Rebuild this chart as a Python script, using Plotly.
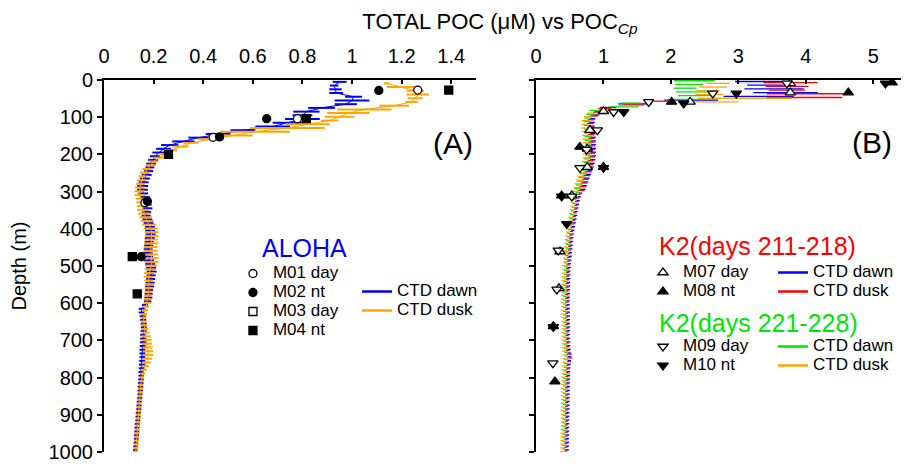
import plotly.graph_objects as go

FONT = "Liberation Sans, Arial, Helvetica, sans-serif"

DEPTH_TICKS = [0, 100, 200, 300, 400, 500, 600, 700, 800, 900, 1000]
A_X_TICKS = [0, 0.2, 0.4, 0.6, 0.8, 1.0, 1.2, 1.4]
B_X_TICKS = [0, 1, 2, 3, 4, 5]

# ---------------- Panel A: ALOHA CTD profiles (centre value and half range) -------------
A_DAWN_DEPTH = list(range(5, 1000, 10))
A_DAWN_POC = [
    0.950, 0.928, 0.933, 0.936, 1.006, 1.000, 0.975, 0.877, 0.816, 0.800,
    0.800, 0.740, 0.680, 0.560, 0.460, 0.380, 0.320, 0.265, 0.240, 0.220,
    0.205, 0.198, 0.190, 0.185, 0.180, 0.172, 0.165, 0.160, 0.156, 0.155,
    0.158, 0.165, 0.170, 0.172, 0.175, 0.172, 0.170, 0.175, 0.180, 0.185,
    0.186, 0.188, 0.185, 0.182, 0.180, 0.178, 0.176, 0.178, 0.182, 0.186,
    0.190, 0.192, 0.190, 0.188, 0.186, 0.184, 0.182, 0.180, 0.179, 0.176,
    0.165, 0.152, 0.152, 0.156, 0.158, 0.160, 0.160, 0.160, 0.158, 0.158,
    0.157, 0.156, 0.155, 0.155, 0.155, 0.154, 0.153, 0.151, 0.150, 0.150,
    0.149, 0.148, 0.147, 0.146, 0.145, 0.144, 0.142, 0.141, 0.140, 0.138,
    0.137, 0.136, 0.134, 0.133, 0.132, 0.131, 0.130, 0.128, 0.127, 0.126]
A_DAWN_RANGE = [
    0.028, 0.017, 0.025, 0.028, 0.034, 0.070, 0.045, 0.054, 0.053, 0.040,
    0.070, 0.060, 0.070, 0.050, 0.050, 0.040, 0.045, 0.035, 0.030, 0.025,
    0.020, 0.020, 0.020, 0.018, 0.018, 0.020, 0.020, 0.020, 0.022, 0.022,
    0.020, 0.020, 0.020, 0.020, 0.020, 0.018, 0.018, 0.020, 0.020, 0.020,
    0.020, 0.020, 0.020, 0.018, 0.018, 0.018, 0.020, 0.020, 0.020, 0.020,
    0.020, 0.020, 0.018, 0.018, 0.018, 0.018, 0.016, 0.016, 0.016, 0.015,
    0.012, 0.012, 0.012, 0.012, 0.012, 0.012, 0.012, 0.012, 0.012, 0.012,
    0.012, 0.012, 0.012, 0.012, 0.012, 0.012, 0.012, 0.011, 0.011, 0.011,
    0.011, 0.011, 0.011, 0.011, 0.010, 0.010, 0.010, 0.010, 0.010, 0.010,
    0.010, 0.010, 0.010, 0.010, 0.010, 0.010, 0.009, 0.009, 0.009, 0.009]

A_DUSK_DEPTH = list(range(9, 1000, 10))
A_DUSK_POC = [
    1.140, 1.200, 1.255, 1.265, 1.255, 1.240, 1.170, 1.050, 0.985, 0.950,
    0.910, 0.820, 0.740, 0.610, 0.520, 0.430, 0.350, 0.310, 0.270, 0.245,
    0.220, 0.200, 0.188, 0.175, 0.165, 0.158, 0.152, 0.148, 0.145, 0.143,
    0.145, 0.150, 0.152, 0.155, 0.158, 0.162, 0.168, 0.175, 0.182, 0.188,
    0.192, 0.192, 0.190, 0.190, 0.188, 0.188, 0.190, 0.192, 0.192, 0.190,
    0.186, 0.182, 0.180, 0.180, 0.182, 0.182, 0.180, 0.178, 0.176, 0.174,
    0.170, 0.166, 0.162, 0.160, 0.160, 0.162, 0.165, 0.168, 0.170, 0.172,
    0.174, 0.176, 0.178, 0.178, 0.176, 0.172, 0.166, 0.160, 0.156, 0.152,
    0.150, 0.148, 0.147, 0.146, 0.145, 0.144, 0.142, 0.141, 0.140, 0.139,
    0.138, 0.137, 0.135, 0.134, 0.133, 0.132, 0.131, 0.130, 0.129, 0.128]
A_DUSK_RANGE = [
    0.012, 0.060, 0.035, 0.045, 0.030, 0.025, 0.060, 0.110, 0.085, 0.060,
    0.035, 0.090, 0.150, 0.140, 0.080, 0.050, 0.030, 0.030, 0.025, 0.020,
    0.020, 0.020, 0.020, 0.020, 0.020, 0.018, 0.018, 0.018, 0.020, 0.020,
    0.022, 0.022, 0.022, 0.022, 0.025, 0.025, 0.025, 0.025, 0.028, 0.028,
    0.028, 0.028, 0.028, 0.028, 0.028, 0.028, 0.028, 0.028, 0.028, 0.025,
    0.022, 0.020, 0.020, 0.018, 0.018, 0.018, 0.016, 0.016, 0.015, 0.015,
    0.012, 0.012, 0.012, 0.012, 0.012, 0.012, 0.014, 0.016, 0.018, 0.020,
    0.020, 0.020, 0.020, 0.020, 0.018, 0.016, 0.014, 0.012, 0.010, 0.010,
    0.010, 0.010, 0.010, 0.010, 0.010, 0.010, 0.010, 0.010, 0.010, 0.010,
    0.010, 0.010, 0.010, 0.010, 0.010, 0.010, 0.010, 0.010, 0.010, 0.010]

# ---------------- Panel A: ALOHA bottle POC ---------------------------------------------
M01_POC = [1.265, 0.78, 0.44, 0.165]
M01_DEPTH = [27, 104, 154, 330]
M02_POC = [1.108, 0.656, 0.466, 0.175, 0.150]
M02_DEPTH = [28, 104, 153, 326, 475]
M03_POC = [None]      # no M03 point is visible in the figure (legend entry only)
M03_DEPTH = [None]
M04_POC = [1.39, 0.816, 0.26, 0.114, 0.134]
M04_DEPTH = [27, 104, 200, 475, 575]

# ---------------- Panel B: K2 CTD profiles ----------------------------------------------
B1_DAWN_DEPTH = list(range(4, 1000, 10))
B1_DAWN_POC = [
    3.33, 3.40, 3.53, 3.70, 3.30, 2.30, 1.47, 1.07, 0.95, 0.88,
    0.840, 0.830, 0.830, 0.835, 0.840, 0.845, 0.850, 0.850, 0.850, 0.850,
    0.850, 0.840, 0.830, 0.815, 0.795, 0.775, 0.755, 0.735, 0.715, 0.695,
    0.660, 0.640, 0.625, 0.615, 0.605, 0.595, 0.585, 0.575, 0.565, 0.555,
    0.545, 0.535, 0.530, 0.525, 0.520, 0.515, 0.510, 0.505, 0.500, 0.495,
    0.490, 0.485, 0.485, 0.483, 0.481, 0.480, 0.480, 0.479, 0.478, 0.477,
    0.477, 0.477, 0.477, 0.478, 0.479, 0.480, 0.481, 0.481, 0.481, 0.482,
    0.483, 0.485, 0.490, 0.495, 0.500, 0.495, 0.490, 0.485, 0.483, 0.481,
    0.480, 0.479, 0.478, 0.477, 0.476, 0.475, 0.475, 0.474, 0.473, 0.472,
    0.471, 0.470, 0.469, 0.468, 0.467, 0.466, 0.465, 0.465, 0.464, 0.463]
B1_DAWN_RANGE = [
    0.38, 0.27, 0.44, 0.48, 0.52, 0.40, 0.25, 0.12, 0.08, 0.06,
    0.040, 0.040, 0.040, 0.040, 0.040, 0.040, 0.040, 0.040, 0.040, 0.040,
    0.040, 0.040, 0.040, 0.040, 0.040, 0.040, 0.040, 0.040, 0.040, 0.040,
    0.025, 0.025, 0.025, 0.025, 0.025, 0.025, 0.025, 0.025, 0.025, 0.025,
    0.025, 0.025, 0.025, 0.025, 0.025, 0.025, 0.025, 0.025, 0.025, 0.025,
    0.025, 0.025, 0.025, 0.025, 0.025, 0.025, 0.025, 0.025, 0.025, 0.025,
    0.025, 0.025, 0.025, 0.025, 0.025, 0.025, 0.025, 0.025, 0.025, 0.025,
    0.025, 0.025, 0.025, 0.025, 0.025, 0.025, 0.025, 0.025, 0.025, 0.025,
    0.025, 0.025, 0.025, 0.025, 0.025, 0.025, 0.025, 0.025, 0.025, 0.025,
    0.025, 0.025, 0.025, 0.025, 0.025, 0.025, 0.025, 0.025, 0.025, 0.025]

B1_DUSK_DEPTH = list(range(7, 1000, 10))
B1_DUSK_POC = [
    3.77, 3.72, 3.72, 3.99, 3.98, 1.88, 1.45, 1.02, 0.925, 0.855,
    0.815, 0.805, 0.805, 0.810, 0.815, 0.820, 0.825, 0.825, 0.825, 0.825,
    0.825, 0.815, 0.805, 0.790, 0.770, 0.750, 0.730, 0.710, 0.690, 0.670,
    0.640, 0.620, 0.605, 0.595, 0.585, 0.575, 0.565, 0.555, 0.545, 0.535,
    0.525, 0.515, 0.510, 0.505, 0.500, 0.495, 0.490, 0.485, 0.480, 0.475,
    0.470, 0.465, 0.465, 0.463, 0.461, 0.460, 0.460, 0.459, 0.458, 0.457,
    0.457, 0.457, 0.457, 0.458, 0.459, 0.460, 0.461, 0.461, 0.461, 0.462,
    0.463, 0.465, 0.470, 0.490, 0.500, 0.490, 0.470, 0.465, 0.463, 0.461,
    0.460, 0.459, 0.458, 0.457, 0.456, 0.455, 0.455, 0.454, 0.453, 0.452,
    0.451, 0.450, 0.449, 0.448, 0.447, 0.446, 0.445, 0.445, 0.444, 0.443]
B1_DUSK_RANGE = [
    0.40, 0.32, 0.27, 0.57, 0.56, 0.14, 0.15, 0.10, 0.08, 0.06,
    0.050, 0.050, 0.050, 0.050, 0.050, 0.050, 0.050, 0.050, 0.050, 0.050,
    0.050, 0.050, 0.050, 0.050, 0.050, 0.050, 0.050, 0.050, 0.050, 0.050,
    0.025, 0.025, 0.025, 0.025, 0.025, 0.025, 0.025, 0.025, 0.025, 0.025,
    0.025, 0.025, 0.025, 0.025, 0.025, 0.025, 0.025, 0.025, 0.025, 0.025,
    0.025, 0.025, 0.025, 0.025, 0.025, 0.025, 0.025, 0.025, 0.025, 0.025,
    0.025, 0.025, 0.025, 0.025, 0.025, 0.025, 0.025, 0.025, 0.025, 0.025,
    0.025, 0.025, 0.030, 0.040, 0.040, 0.030, 0.025, 0.025, 0.025, 0.025,
    0.025, 0.025, 0.025, 0.025, 0.025, 0.025, 0.025, 0.025, 0.025, 0.025,
    0.025, 0.025, 0.025, 0.025, 0.025, 0.025, 0.025, 0.025, 0.025, 0.025]

B2_DAWN_DEPTH = list(range(2, 1000, 10))
B2_DAWN_POC = [
    2.35, 2.27, 2.21, 2.33, 2.38, 2.30, 1.40, 1.30, 0.875, 0.805,
    0.765, 0.755, 0.755, 0.760, 0.765, 0.770, 0.775, 0.775, 0.775, 0.775,
    0.775, 0.765, 0.755, 0.740, 0.720, 0.700, 0.680, 0.660, 0.640, 0.620,
    0.610, 0.590, 0.575, 0.565, 0.555, 0.545, 0.535, 0.525, 0.515, 0.505,
    0.495, 0.485, 0.480, 0.475, 0.470, 0.465, 0.460, 0.455, 0.450, 0.445,
    0.440, 0.435, 0.435, 0.433, 0.431, 0.430, 0.430, 0.429, 0.428, 0.427,
    0.427, 0.427, 0.427, 0.428, 0.429, 0.430, 0.431, 0.431, 0.431, 0.432,
    0.433, 0.435, 0.440, 0.445, 0.450, 0.445, 0.440, 0.435, 0.433, 0.431,
    0.430, 0.429, 0.428, 0.427, 0.426, 0.425, 0.425, 0.424, 0.423, 0.422,
    0.421, 0.420, 0.419, 0.418, 0.417, 0.416, 0.415, 0.415, 0.414, 0.413]
B2_DAWN_RANGE = [
    0.30, 0.21, 0.17, 0.25, 0.27, 0.25, 0.15, 0.22, 0.08, 0.06,
    0.050, 0.050, 0.050, 0.050, 0.050, 0.050, 0.050, 0.050, 0.050, 0.050,
    0.050, 0.050, 0.050, 0.050, 0.050, 0.050, 0.050, 0.050, 0.050, 0.050,
    0.025, 0.025, 0.025, 0.025, 0.025, 0.025, 0.025, 0.025, 0.025, 0.025,
    0.025, 0.025, 0.025, 0.025, 0.025, 0.025, 0.025, 0.025, 0.025, 0.025,
    0.025, 0.025, 0.025, 0.025, 0.025, 0.025, 0.025, 0.025, 0.025, 0.025,
    0.025, 0.025, 0.025, 0.025, 0.025, 0.025, 0.025, 0.025, 0.025, 0.025,
    0.025, 0.025, 0.025, 0.025, 0.025, 0.025, 0.025, 0.025, 0.025, 0.025,
    0.025, 0.025, 0.025, 0.025, 0.025, 0.025, 0.025, 0.025, 0.025, 0.025,
    0.025, 0.025, 0.025, 0.025, 0.025, 0.025, 0.025, 0.025, 0.025, 0.025]

B2_DUSK_DEPTH = list(range(9, 1000, 10))
B2_DUSK_POC = [
    2.70, 2.62, 2.54, 2.57, 3.10, 2.55, 1.35, 1.12, 0.84, 0.77,
    0.730, 0.720, 0.720, 0.725, 0.730, 0.735, 0.740, 0.740, 0.740, 0.740,
    0.740, 0.730, 0.720, 0.705, 0.685, 0.665, 0.645, 0.625, 0.605, 0.585,
    0.580, 0.560, 0.545, 0.535, 0.525, 0.515, 0.505, 0.495, 0.485, 0.475,
    0.465, 0.455, 0.450, 0.445, 0.440, 0.435, 0.430, 0.425, 0.420, 0.415,
    0.410, 0.405, 0.405, 0.403, 0.401, 0.400, 0.400, 0.399, 0.398, 0.397,
    0.397, 0.397, 0.397, 0.398, 0.399, 0.400, 0.401, 0.401, 0.401, 0.402,
    0.403, 0.405, 0.410, 0.415, 0.420, 0.415, 0.410, 0.405, 0.403, 0.401,
    0.400, 0.399, 0.398, 0.397, 0.396, 0.395, 0.395, 0.394, 0.393, 0.392,
    0.391, 0.390, 0.389, 0.388, 0.387, 0.386, 0.385, 0.385, 0.384, 0.383]
B2_DUSK_RANGE = [
    0.17, 0.21, 0.18, 0.21, 0.70, 0.45, 0.12, 0.18, 0.08, 0.06,
    0.050, 0.050, 0.050, 0.050, 0.050, 0.050, 0.050, 0.050, 0.050, 0.050,
    0.050, 0.050, 0.050, 0.050, 0.050, 0.050, 0.050, 0.050, 0.050, 0.050,
    0.025, 0.025, 0.025, 0.025, 0.025, 0.025, 0.025, 0.025, 0.025, 0.025,
    0.025, 0.025, 0.025, 0.025, 0.025, 0.025, 0.025, 0.025, 0.025, 0.025,
    0.025, 0.025, 0.025, 0.025, 0.025, 0.025, 0.025, 0.025, 0.025, 0.025,
    0.025, 0.025, 0.025, 0.025, 0.025, 0.025, 0.025, 0.025, 0.025, 0.025,
    0.025, 0.025, 0.025, 0.025, 0.025, 0.025, 0.025, 0.025, 0.025, 0.025,
    0.025, 0.025, 0.025, 0.025, 0.025, 0.025, 0.025, 0.025, 0.025, 0.025,
    0.025, 0.025, 0.025, 0.025, 0.025, 0.025, 0.025, 0.025, 0.025, 0.025]

# ---------------- Panel B: K2 bottle POC ------------------------------------------------
M07_POC = [3.77, 3.77, 2.285, 1.00, 0.80, 0.76, 0.76, 0.53, 0.356, 0.34]
M07_DEPTH = [9, 34, 59, 84, 135, 185, 234, 311, 461, 560]
M08_POC = [5.28, 4.63, 2.01, 0.65, 1.00, 0.38, 0.257, 0.28]
M08_DEPTH = [7, 34, 59, 180, 234, 311, 662, 811]
M09_POC = [3.72, 2.62, 1.67, 1.15, 0.91, 0.75, 0.65, 0.53, 0.33, 0.31, 0.25]
M09_DEPTH = [9, 36, 59, 86, 135, 187, 236, 313, 458, 563, 761]
M10_POC = [5.18, 2.97, 2.19, 1.30, 1.00, 0.38, 0.455, 0.257]
M10_DEPTH = [9, 36, 63, 86, 236, 313, 387, 664]

BLUE = "#0000ff"
ORANGE = "#ffa500"
RED = "#ff0000"
GREEN = "#00e600"

fig = go.Figure()


def ctd(x, y, hw, color, xa, ya, mode, thick):
    return go.Scatter(
        x=x, y=y, mode=mode, xaxis=xa, yaxis=ya, showlegend=False, hoverinfo="skip",
        line=dict(color=color, width=1), marker=dict(size=1, color=color, opacity=0),
        error_x=dict(type="data", array=hw, visible=True, thickness=thick, width=0, color=color))


fig.add_trace(ctd(A_DAWN_POC, A_DAWN_DEPTH, A_DAWN_RANGE, BLUE, "x", "y", "lines", 2))
fig.add_trace(ctd(A_DUSK_POC, A_DUSK_DEPTH, A_DUSK_RANGE, ORANGE, "x", "y", "lines", 2))
fig.add_trace(ctd(B1_DAWN_POC, B1_DAWN_DEPTH, B1_DAWN_RANGE, BLUE, "x2", "y2", "markers", 1.3))
fig.add_trace(ctd(B1_DUSK_POC, B1_DUSK_DEPTH, B1_DUSK_RANGE, RED, "x2", "y2", "markers", 1.3))
fig.add_trace(ctd(B2_DAWN_POC, B2_DAWN_DEPTH, B2_DAWN_RANGE, GREEN, "x2", "y2", "markers", 1.3))
fig.add_trace(ctd(B2_DUSK_POC, B2_DUSK_DEPTH, B2_DUSK_RANGE, ORANGE, "x2", "y2", "markers", 1.3))


def lab(t):
    return "<span style='font-size:17px'>" + t + "</span>"


def pts(x, y, name, symbol, fill, xa, ya, legend, size=8):
    return go.Scatter(
        x=x, y=y, mode="markers", name=lab(name), xaxis=xa, yaxis=ya, legend=legend,
        marker=dict(symbol=symbol, size=size, color=fill, line=dict(color="black", width=1.3)))


fig.add_trace(pts(M01_POC, M01_DEPTH, "M01 day", "circle", "white", "x", "y", "legend"))
fig.add_trace(pts(M02_POC, M02_DEPTH, "M02 nt", "circle", "black", "x", "y", "legend"))
fig.add_trace(pts(M03_POC, M03_DEPTH, "M03 day", "square", "white", "x", "y", "legend"))
fig.add_trace(pts(M04_POC, M04_DEPTH, "M04 nt", "square", "black", "x", "y", "legend"))

fig.add_trace(pts(M07_POC, M07_DEPTH, "M07 day", "triangle-up", "white", "x2", "y2", "legend3", 9))
fig.add_trace(pts(M08_POC, M08_DEPTH, "M08 nt", "triangle-up", "black", "x2", "y2", "legend3", 9))
fig.add_trace(pts(M09_POC, M09_DEPTH, "M09 day", "triangle-down", "white", "x2", "y2", "legend5", 9))
fig.add_trace(pts(M10_POC, M10_DEPTH, "M10 nt", "triangle-down", "black", "x2", "y2", "legend5", 9))


def key(name, color, legend, xa, ya):
    return go.Scatter(x=[None], y=[None], mode="lines", name=lab(name), legend=legend,
                      xaxis=xa, yaxis=ya, line=dict(color=color, width=2.5))


fig.add_trace(key("CTD dawn", BLUE, "legend2", "x", "y"))
fig.add_trace(key("CTD dusk", ORANGE, "legend2", "x", "y"))
fig.add_trace(key("CTD dawn", BLUE, "legend4", "x2", "y2"))
fig.add_trace(key("CTD dusk", RED, "legend4", "x2", "y2"))
fig.add_trace(key("CTD dawn", GREEN, "legend6", "x2", "y2"))
fig.add_trace(key("CTD dusk", ORANGE, "legend6", "x2", "y2"))

axis_common = dict(showline=True, linecolor="black", linewidth=2, showgrid=False, zeroline=False,
                   tickcolor="black", tickwidth=2, tickfont=dict(size=20, color="black"))

leg_common = dict(bgcolor="rgba(0,0,0,0)", font=dict(size=12, family=FONT, color="black"),
                  xanchor="left", yanchor="top", tracegroupgap=0, borderwidth=0)

# The page body adds an 8 px offset, so the figure is sized to the remaining window.
fig.update_layout(
    width=901, height=456,
    margin=dict(l=96, r=2, t=72, b=12),
    paper_bgcolor="white", plot_bgcolor="white",
    font=dict(family=FONT, color="black"),
    title=dict(text="TOTAL POC (\u03bcM) vs POC<sub><i>Cp</i></sub>", x=0.546, xanchor="center",
               y=0.971, yanchor="middle", font=dict(size=22, color="black")),
    xaxis=dict(domain=[0, 0.4633], range=[0, 1.5], side="top", anchor="y", tickvals=A_X_TICKS,
               ticks="inside", ticklen=4, ticklabelstandoff=7, **axis_common),
    xaxis2=dict(domain=[0.538, 1], range=[0, 5.5], side="top", anchor="y2", tickvals=B_X_TICKS,
                ticks="inside", ticklen=4, ticklabelstandoff=7, **axis_common),
    yaxis=dict(domain=[0, 1], range=[1000, 0], anchor="x", tickvals=DEPTH_TICKS, ticks="outside",
               ticklen=5, title=dict(text="Depth (m)", font=dict(size=20), standoff=17), **axis_common),
    yaxis2=dict(domain=[0, 1], range=[1000, 0], anchor="x2", matches="y", tickvals=DEPTH_TICKS,
                ticks="outside", ticklen=5, showticklabels=False, **axis_common),
    legend=dict(x=0.1606, y=0.5188, **leg_common),
    legend2=dict(x=0.3151, y=0.4704, **leg_common),
    legend3=dict(x=0.6712, y=0.5215, **leg_common),
    legend4=dict(x=0.8331, y=0.5215, **leg_common),
    legend5=dict(x=0.6712, y=0.3226, **leg_common),
    legend6=dict(x=0.8331, y=0.3226, **leg_common),
    annotations=[
        dict(text="ALOHA", x=0.1943, y=0.548, xref="paper", yref="paper", xanchor="left",
             yanchor="middle", showarrow=False, font=dict(size=25, color=BLUE)),
        dict(text="K2(days 211-218)", x=0.6887, y=0.5538, xref="paper", yref="paper",
             xanchor="left", yanchor="middle", showarrow=False, font=dict(size=25, color=RED)),
        dict(text="K2(days 221-228)", x=0.6887, y=0.3468, xref="paper", yref="paper",
             xanchor="left", yanchor="middle", showarrow=False, font=dict(size=25, color=GREEN)),
        dict(text="(A)", x=0.4346, y=0.8306, xref="paper", yref="paper", xanchor="center",
             yanchor="middle", showarrow=False, font=dict(size=30, color="black")),
        dict(text="(B)", x=0.9564, y=0.8333, xref="paper", yref="paper", xanchor="center",
             yanchor="middle", showarrow=False, font=dict(size=30, color="black")),
    ],
)

fig.write_html("out.html")
